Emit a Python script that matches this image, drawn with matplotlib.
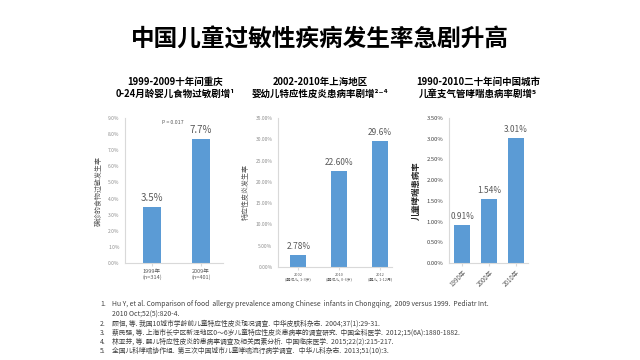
import matplotlib
matplotlib.use('Agg')
import matplotlib.pyplot as plt
from matplotlib.ticker import FuncFormatter

plt.rcParams['font.family'] = ['Noto Sans CJK SC', 'DejaVu Sans']

# data
title = '中国儿童过敏性疾病发生率急剧升高'

sub1 = '1999-2009十年间重庆\n0-24月龄婴儿食物过敏剧增¹'
cats1 = ['1999年\n(n=314)', '2009年\n(n=401)']
vals1 = [3.5, 7.7]
lab1 = ['3.5%', '7.7%']

sub2 = '2002-2010年上海地区\n婴幼儿特应性皮炎患病率剧增²⁻⁴'
cats2 = ['2002\n(婴幼儿, 1-3岁)', '2010\n(婴幼儿, 0-6岁)', '2012\n(婴儿, 1-12月)']
vals2 = [2.78, 22.60, 29.6]
lab2 = ['2.78%', '22.60%', '29.6%']

sub3 = '1990-2010二十年间中国城市\n儿童支气管哮喘患病率剧增⁵'
cats3 = ['1990年', '2000年', '2010年']
vals3 = [0.91, 1.54, 3.01]
lab3 = ['0.91%', '1.54%', '3.01%']

refs = [
    ('1.', 'Hu Y, et al. Comparison of food  allergy prevalence among Chinese  infants in Chongqing,  2009 versus 1999.  Pediatr Int.\n2010 Oct;52(5):820-4.'),
    ('2.', '顾恒, 等. 我国10城市学龄前儿童特应性皮炎现况调查.  中华皮肤科杂志.  2004;37(1):29-31.'),
    ('3.', '蔡民强, 等. 上海市长宁区新泾地区0～6岁儿童特应性皮炎患病率的调查研究.  中国全科医学.  2012;15(6A):1880-1882.'),
    ('4.', '林亚芬, 等. 婴儿特应性皮炎的患病率调查及相关因素分析.  中国临床医学.  2015;22(2):215-217.'),
    ('5.', '全国儿科哮喘协作组.  第三次中国城市儿童哮喘流行病学调查.   中华儿科杂志.  2013;51(10):3.'),
]

W, H = 640, 360
blue = '#5b9bd5'
grey = '#595959'
light = '#d9d9d9'

fig = plt.figure(figsize=(6.4, 3.6), dpi=100)
fig.patch.set_facecolor('white')


def px_axes(l, r, t, b):
    return fig.add_axes([l / W, 1 - b / H, (r - l) / W, (b - t) / H])


def style(ax):
    for s in ['top', 'right']:
        ax.spines[s].set_visible(False)
    for s in ['left', 'bottom']:
        ax.spines[s].set_color(light)
        ax.spines[s].set_linewidth(0.8)
    ax.tick_params(axis='y', length=0, labelsize=3.5, labelcolor='#8c8c8c', pad=4)
    ax.tick_params(axis='x', length=2, color=light, labelsize=4, labelcolor=grey, pad=2)


fig.text(0.5, 1 - 40 / H, title, ha='center', va='center', fontsize=17,
         fontweight='bold', color='black')

# panel 1
ax1 = px_axes(125, 223, 118, 263)
x1 = list(range(len(vals1)))
ax1.bar(x1, vals1, width=0.35, color=blue)
ax1.set_xlim(-0.55, 1.45)
ax1.set_ylim(0, 9)
ax1.set_yticks([i for i in range(10)])
ax1.yaxis.set_major_formatter(FuncFormatter(lambda v, p: '%.1f%%' % v))
ax1.set_xticks(x1)
ax1.set_xticklabels(cats1)
for i, v in enumerate(vals1):
    ax1.text(i, v + 0.25, lab1[i], ha='center', va='bottom', fontsize=7, color=grey)
ax1.text(0.42, 8.55, 'P = 0.017', ha='center', va='bottom', fontsize=3.8,
         style='italic', color=grey)
ax1.set_ylabel('确诊的食物过敏发生率', fontsize=5, color=grey, labelpad=4)
style(ax1)
fig.text(175 / W, 1 - 88 / H, sub1, ha='center', va='center', fontsize=6.8,
         fontweight='bold', linespacing=1.3)

# panel 2
ax2 = px_axes(278, 392, 118, 267)
x2 = list(range(len(vals2)))
ax2.bar(x2, vals2, width=0.4, color=blue)
ax2.set_xlim(-0.5, 2.3)
ax2.set_ylim(0, 35)
ax2.set_yticks([i * 5 for i in range(8)])
ax2.yaxis.set_major_formatter(FuncFormatter(lambda v, p: '%.2f%%' % v))
ax2.set_xticks(x2)
ax2.set_xticklabels(cats2, fontsize=2.8)
for i, v in enumerate(vals2):
    ax2.text(i, v + 1.0, lab2[i], ha='center', va='bottom', fontsize=6, color=grey)
ax2.set_ylabel('特应性皮炎发生率', fontsize=5, color=grey, labelpad=4)
style(ax2)
ax2.tick_params(axis='x', labelsize=2.8)
fig.text(320 / W, 1 - 88 / H, sub2, ha='center', va='center', fontsize=6.8,
         fontweight='bold', linespacing=1.3)

# panel 3
ax3 = px_axes(449, 528, 118, 263)
x3 = list(range(len(vals3)))
ax3.bar(x3, vals3, width=0.6, color=blue)
ax3.set_xlim(-0.5, 2.45)
ax3.set_ylim(0, 3.5)
ax3.set_yticks([i * 0.5 for i in range(8)])
ax3.yaxis.set_major_formatter(FuncFormatter(lambda v, p: '%.2f%%' % v))
ax3.set_xticks(x3)
ax3.set_xticklabels(cats3, rotation=45, ha='right', rotation_mode='anchor')
for i, v in enumerate(vals3):
    ax3.text(i, v + 0.1, lab3[i], ha='center', va='bottom', fontsize=6, color=grey)
ax3.set_ylabel('儿童哮喘患病率', fontsize=6, color='#262626', fontweight='bold',
               labelpad=4)
style(ax3)
ax3.tick_params(axis='y', labelsize=4.2, labelcolor='#404040')
ax3.tick_params(axis='x', labelsize=4.5)
fig.text(478 / W, 1 - 88 / H, sub3, ha='center', va='center', fontsize=6.8,
         fontweight='bold', linespacing=1.3)

# references
ys = [304, 324, 333, 342, 351]
for (n, t), y in zip(refs, ys):
    fig.text(100 / W, 1 - y / H, n, ha='left', va='center', fontsize=4.9, color='#404040')
    if '\n' in t:
        fig.text(112 / W, 1 - (y - 4.5) / H, t, ha='left', va='top',
                 fontsize=4.9, color='#404040', linespacing=1.45)
    else:
        fig.text(112 / W, 1 - y / H, t, ha='left', va='center',
                 fontsize=4.9, color='#404040')

fig.savefig('out.png', dpi=100, facecolor='white')
